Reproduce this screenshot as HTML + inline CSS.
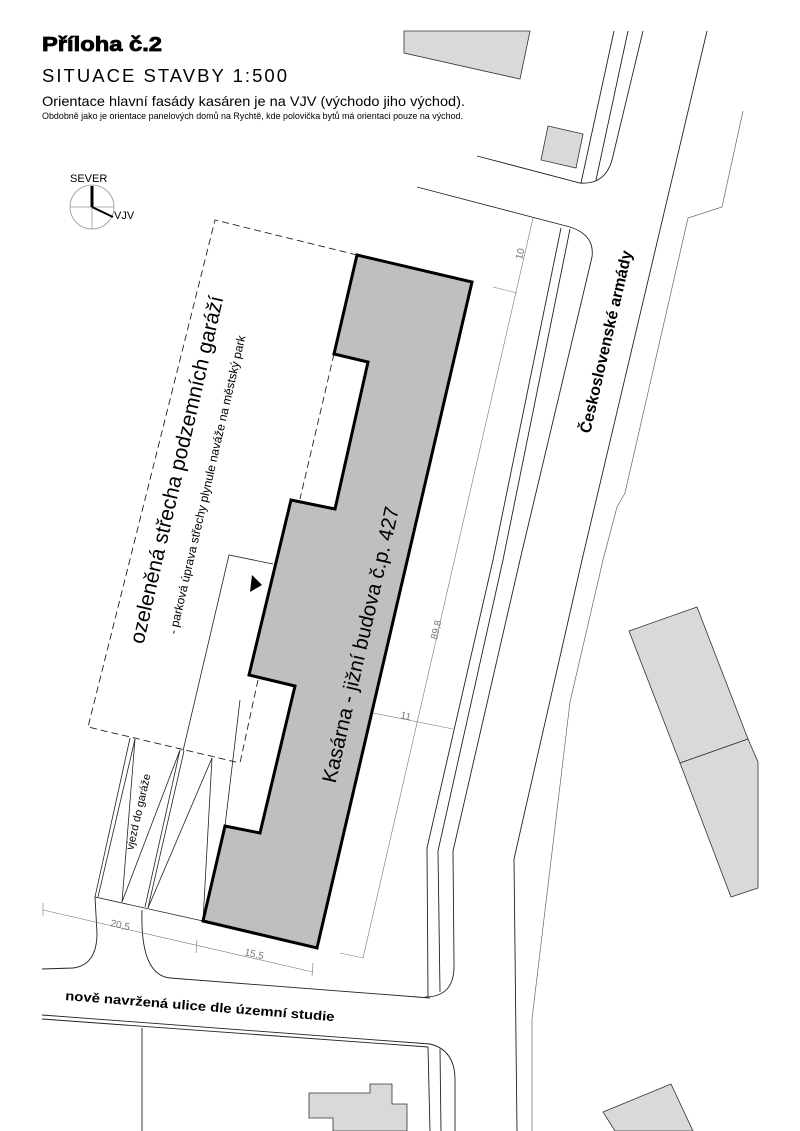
<!DOCTYPE html>
<html><head><meta charset="utf-8"><style>
html,body{margin:0;padding:0;background:#fff}
svg{display:block}
text{font-family:"Liberation Sans",Arial,sans-serif}
</style></head><body>
<svg width="800" height="1131" viewBox="0 0 800 1131" xmlns="http://www.w3.org/2000/svg">
<rect width="800" height="1131" fill="#fff"/>
<!-- header -->
<text x="42" y="51" font-size="20" font-weight="bold" stroke="#000" stroke-width="0.8" textLength="120" lengthAdjust="spacingAndGlyphs">Příloha č.2</text>
<text x="42" y="82" font-size="18.5" textLength="245" lengthAdjust="spacing">SITUACE  STAVBY  1:500</text>
<text x="42" y="106" font-size="14" textLength="423" lengthAdjust="spacingAndGlyphs">Orientace hlavní fasády kasáren je na VJV (východo jiho východ).</text>
<text x="42" y="119" font-size="9" textLength="421" lengthAdjust="spacingAndGlyphs">Obdobně jako je orientace panelových domů na Rychtě, kde polovička bytů má orientaci pouze na východ.</text>

<!-- compass -->
<g stroke="#999" stroke-width="0.8" fill="none">
<circle cx="92" cy="207" r="22"/>
<line x1="70" y1="207" x2="114" y2="207"/><line x1="92" y1="185" x2="92" y2="229"/>
</g>
<line x1="92" y1="207" x2="92" y2="186" stroke="#000" stroke-width="3"/>
<line x1="92" y1="207" x2="113" y2="217" stroke="#000" stroke-width="2"/>
<text x="70" y="182" font-size="11">SEVER</text>
<text x="114" y="219" font-size="11">VJV</text>

<!-- grey neighbour buildings -->
<g fill="#d9d9d9" stroke="#333" stroke-width="0.8">
<polygon points="404,31 530,31 520,79 404,53"/>
<polygon points="548,126 583,134 576,168 541,160"/>
<polygon points="629,631 697,607 748,739 680,763"/>
<polygon points="680,763 748,739 758,762 758,888 731,897"/>
<polygon points="603,1112 671,1084 693,1131 615,1131"/>
<polygon points="309,1093 370,1093 370,1084 392,1084 392,1104 407,1104 407,1131 333,1131 333,1118 309,1118"/>
</g>

<!-- roads -->
<g stroke="#222" stroke-width="0.9" fill="none">
<path d="M477,156 L580,183 Q605,185 612,160 L643,31"/>
<path d="M628,31 L596,180"/>
<line x1="614" y1="31" x2="581" y2="183"/>
<path d="M707,31 L582,560 L514,859 L517,1131"/>
<path d="M417,187 L570,227 Q595,235 592,257 L520,560 L453,851 L454,964 Q455,997 425,997"/>
<path d="M570,229 L503,560 L438,851 L440,992"/>
<path d="M561,228 L493,560 L427,848 L428,997"/>
<path d="M142,910 Q140,975 170,978 L430,998"/>
<path d="M42,969 L73,968 Q97,965 97,933 L95,897"/>
<path d="M42,1015 L430,1044 Q455,1050 455,1080 L455,1131"/>
<line x1="42" y1="1019" x2="428" y2="1047"/>
<line x1="428" y1="1047" x2="430" y2="1131"/>
<line x1="440" y1="1049" x2="441" y2="1131"/>
<line x1="142" y1="1028" x2="142" y2="1131"/>
</g>
<g stroke="#666" stroke-width="0.7" fill="none">
<path d="M743,111 L722,207 L688,218 L625,493 L617,507 L603,560 L570,702 L532,1019 L532,1131"/>
</g>

<!-- dashed roof area -->
<g stroke="#222" stroke-width="0.9" fill="none" stroke-dasharray="7,4">
<path d="M357,255 L215,220 L88,727 L240,763"/>
<path d="M334,354 L300,499"/>
<path d="M258,680 L240,763"/>
</g>
<!-- small rect & ramp -->
<g stroke="#222" stroke-width="0.8" fill="none">
<path d="M273,564 L229,555 L183,751"/>
<line x1="240" y1="700" x2="225" y2="826"/>
<line x1="130" y1="738" x2="95" y2="897"/>
<line x1="135" y1="739" x2="98" y2="897"/>
<line x1="135" y1="739" x2="122" y2="902"/>
<line x1="180" y1="750" x2="122" y2="902"/>
<line x1="180" y1="750" x2="145" y2="907"/>
<line x1="184" y1="751" x2="148" y2="908"/>
<line x1="212" y1="758" x2="148" y2="908"/>
<line x1="212" y1="758" x2="203" y2="921"/>
<line x1="95" y1="897" x2="203" y2="921"/>
</g>
<polygon points="252,575 262,585 250,592" fill="#000"/>

<!-- main building -->
<polygon points="357,255 472,282 317,948 203,921 225,826 260,833 295,686 249,675 291,500 335,509 368,362 334,354" fill="#bfbfbf" stroke="#000" stroke-width="3" stroke-linejoin="miter"/>

<!-- dimensions -->
<g stroke="#777" stroke-width="0.6" fill="none">
<line x1="533" y1="218" x2="363" y2="958"/>
<line x1="493" y1="287" x2="517" y2="293"/>
<line x1="373" y1="713" x2="453" y2="729"/>
<line x1="340" y1="953" x2="363" y2="958"/>
<line x1="43" y1="910" x2="313" y2="972"/>
<line x1="43" y1="903" x2="43" y2="916"/>
<line x1="197" y1="940" x2="196" y2="953"/>
<line x1="313" y1="963" x2="312" y2="976"/>
</g>
<g fill="#777" font-size="10">
<text transform="translate(522,260) rotate(-77)">10</text>
<text transform="translate(437,640) rotate(-77)">89,8</text>
<text transform="translate(400,718) rotate(13)">11</text>
<text transform="translate(110,926) rotate(13)">20,5</text>
<text transform="translate(244,955) rotate(13)">15,5</text>
</g>

<!-- labels -->
<text transform="translate(607,342) rotate(-77)" font-size="16" font-weight="bold" text-anchor="middle" dominant-baseline="middle">Československé armády</text>
<text transform="translate(362,645) rotate(-77)" font-size="20.5" text-anchor="middle" dominant-baseline="middle">Kasárna - jižní budova č.p. 427</text>
<text transform="translate(178,470) rotate(-77)" font-size="21" text-anchor="middle" dominant-baseline="middle">ozeleněná střecha podzemních garáží</text>
<text transform="translate(208,485) rotate(-77)" font-size="12" text-anchor="middle" dominant-baseline="middle">- parková úprava střechy plynule naváže na městský park</text>
<text transform="translate(139,812) rotate(-77)" font-size="11" text-anchor="middle" dominant-baseline="middle">vjezd do garáže</text>
<text transform="translate(65,1000) rotate(4.5)" font-size="13" font-weight="bold" textLength="270" lengthAdjust="spacingAndGlyphs">nově navržená ulice dle územní studie</text>
</svg>
</body></html>
